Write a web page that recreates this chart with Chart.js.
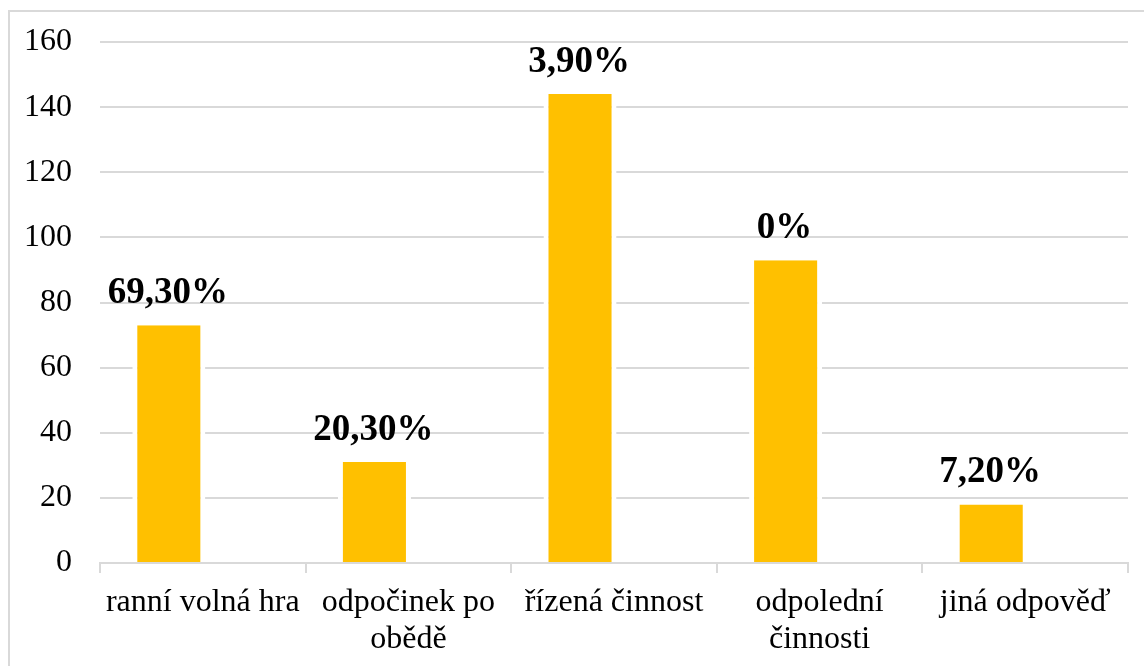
<!DOCTYPE html>
<html>
<head>
<meta charset="utf-8">
<script src="https://cdn.jsdelivr.net/npm/chart.js@4/dist/chart.umd.min.js"></script>
<style>
  html, body { margin: 0; padding: 0; background: #ffffff; overflow: hidden; }
  #frame { position: absolute; left: 8px; top: 10px; width: 2000px; height: 2000px;
           border-left: 2px solid #d9d9d9; border-top: 2px solid #d9d9d9; }
  #wrap { position: absolute; left: 0; top: 0; width: 1144px; height: 666px; }
</style>
</head>
<body>
<div id="frame"></div>
<div id="wrap"><canvas id="c" width="1144" height="666"></canvas></div>
<script>
const categories = [
  "ranní volná hra",
  ["odpočinek po", "obědě"],
  "řízená činnost",
  ["odpolední", "činnosti"],
  "jiná odpověď"
];
const counts = [73, 31, 144, 93, 18];
const labelTexts = ["69,30%", "20,30%", "3,90%", "0%", "7,20%"];
const emptySeries = [null, null, null, null, null];
const yTicks = { min: 0, max: 160, step: 20 };

const barLabels = {
  id: 'barLabels',
  afterDatasetsDraw(chart) {
    const ctx = chart.ctx;
    const meta = chart.getDatasetMeta(0);
    ctx.save();
    ctx.font = 'bold 37px "Liberation Serif"';
    ctx.fillStyle = '#000000';
    ctx.textAlign = 'center';
    ctx.textBaseline = 'alphabetic';
    meta.data.forEach((el, i) => {
      ctx.fillText(labelTexts[i], el.x - 1, el.y - 22);
    });
    ctx.restore();
  }
};

new Chart(document.getElementById('c'), {
  type: 'bar',
  data: {
    labels: categories,
    datasets: [
      {
        data: counts,
        backgroundColor: '#FFC000',
        borderColor: '#ffffff',
        borderWidth: { left: 5, right: 5, top: 0, bottom: 0 },
        borderSkipped: false,
        categoryPercentage: 0.661,
        barPercentage: 1.075
      },
      {
        data: emptySeries,
        backgroundColor: '#FFC000',
        categoryPercentage: 0.661,
        barPercentage: 1.075
      }
    ]
  },
  options: {
    responsive: false,
    animation: false,
    devicePixelRatio: 1,
    layout: { padding: { left: 0, right: 16, top: 42, bottom: 0 } },
    plugins: {
      legend: { display: false },
      tooltip: { enabled: false },
      title: { display: false }
    },
    scales: {
      x: {
        offset: true,
        grid: {
          display: true,
          offset: true,
          drawOnChartArea: false,
          drawTicks: true,
          tickLength: 10,
          color: '#d9d9d9',
          lineWidth: 2
        },
        border: { display: true, color: '#d9d9d9', width: 2 },
        ticks: {
          autoSkip: false,
          maxRotation: 0,
          minRotation: 0,
          color: '#000000',
          padding: 11,
          font: { family: '"Liberation Serif"', size: 32, lineHeight: 1.15 }
        },
        afterFit(scale) { scale.height = 103; }
      },
      y: {
        min: yTicks.min,
        max: yTicks.max,
        grid: {
          color: '#d9d9d9',
          lineWidth: 2,
          drawTicks: false
        },
        border: { display: false },
        ticks: {
          stepSize: yTicks.step,
          color: '#000000',
          padding: 28,
          font: { family: '"Liberation Serif"', size: 32 }
        },
        afterFit(scale) {
          scale.width = 100;
          scale.paddingTop = 0;
          scale.paddingBottom = 0;
        }
      }
    }
  },
  plugins: [barLabels]
});
</script>
</body>
</html>
